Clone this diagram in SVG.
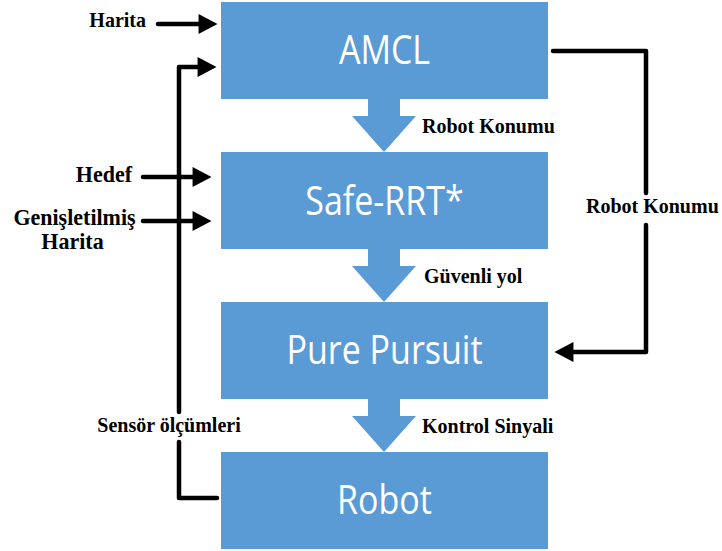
<svg xmlns="http://www.w3.org/2000/svg" width="722" height="551" viewBox="0 0 722 551">
<style>
.box{fill:#5B9BD5}
.bt{font-family:"Open Sans","Noto Sans","Liberation Sans",sans-serif;font-size:34px;fill:#ffffff;text-anchor:middle}
.lb{font-family:"Liberation Serif","Times New Roman",serif;font-size:20px;font-weight:bold;fill:#000000}
.lg{font-size:22px}
.ln{fill:none;stroke:#000000;stroke-width:4.5;stroke-linejoin:round;stroke-linecap:round}
.ba{fill:#5B9BD5}
</style>
<defs>
<marker id="ah" markerUnits="userSpaceOnUse" markerWidth="20" markerHeight="20" viewBox="0 0 18 19" refX="8" refY="9.5" orient="auto">
<path d="M0,0 L18,9.5 L0,19 Z" fill="#000000"/>
</marker>
</defs>
<rect width="722" height="551" fill="#ffffff"/>
<g id="connectors">
<polygon class="ba" points="368,99 400,99 400,116 416,116 384,152 352,116 368,116"/>
<polygon class="ba" points="368,249 400,249 400,266 416,266 384,302 352,266 368,266"/>
<polygon class="ba" points="368,399 400,399 400,416 416,416 384,452 352,416 368,416"/>
<path class="ln" d="M158,24 H207" marker-end="url(#ah)"/>
<path class="ln" d="M217,498 H179 V442 M179,412 V67 H206" marker-end="url(#ah)"/>
<path class="ln" d="M143,177 H201" marker-end="url(#ah)"/>
<path class="ln" d="M143,221 H201" marker-end="url(#ah)"/>
<path class="ln" d="M553,51 H646 V193 M646,225 V352 H565" marker-end="url(#ah)"/>
<text class="lb" transform="translate(422,133) scale(1,1.1)">Robot Konumu</text>
<text class="lb" transform="translate(424,283) scale(1,1.1)">Güvenli yol</text>
<text class="lb" transform="translate(422,433) scale(1,1.1)">Kontrol Sinyali</text>
<text class="lb" text-anchor="middle" transform="translate(169,432) scale(1,1.1)">Sensör ölçümleri</text>
<text class="lb" transform="translate(586,213) scale(1,1.1)">Robot Konumu</text>
<text class="lb" text-anchor="end" transform="translate(146,27) scale(1,1.1)">Harita</text>
<text class="lb lg" text-anchor="end" transform="translate(132,182) scale(1,1.02)">Hedef</text>
<text class="lb lg" text-anchor="middle" transform="translate(74.5,225) scale(1,1.02)">Genişletilmiş</text>
<text class="lb lg" text-anchor="middle" transform="translate(72.5,249) scale(1,1.02)">Harita</text>
</g>
<g id="amcl">
<rect class="box" x="221" y="2" width="327" height="97"/>
<text class="bt" transform="translate(384.5,64) scale(1,1.2)">AMCL</text>
</g>
<g id="safe-rrt">
<rect class="box" x="221" y="152" width="327" height="97"/>
<text class="bt" transform="translate(384.5,214.5) scale(1,1.2)">Safe-RRT*</text>
</g>
<g id="pure-pursuit">
<rect class="box" x="221" y="302" width="327" height="97"/>
<text class="bt" transform="translate(384.5,363.5) scale(1,1.2)">Pure Pursuit</text>
</g>
<g id="robot">
<rect class="box" x="221" y="452" width="327" height="97"/>
<text class="bt" transform="translate(384.5,513.5) scale(1,1.2)">Robot</text>
</g>
</svg>
